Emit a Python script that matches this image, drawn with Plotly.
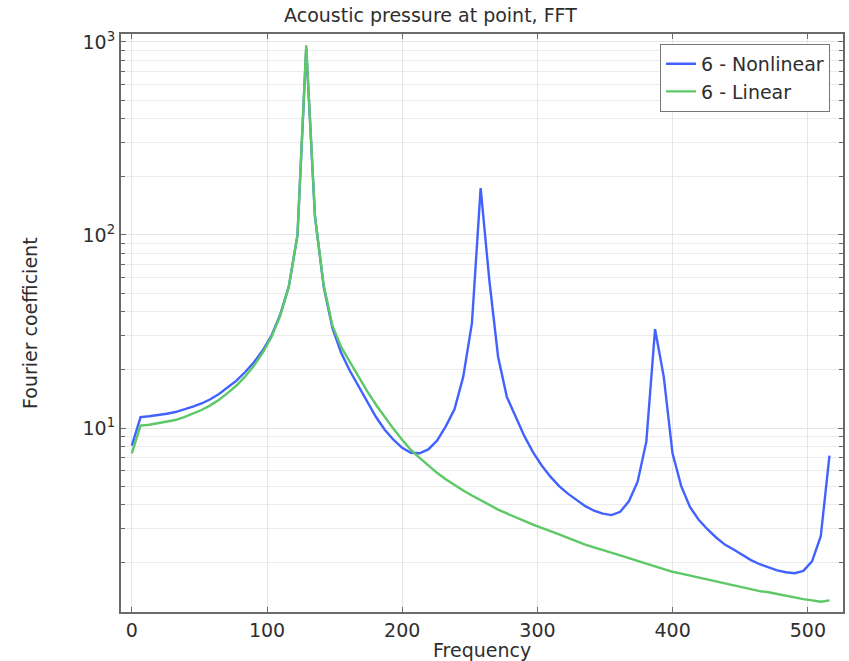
import plotly.graph_objects as go

frequency = [0, 6.45, 12.9, 19.35, 25.8, 32.25, 38.7, 45.15, 51.6, 58.05, 64.5, 70.95, 77.4, 83.85,
             90.3, 96.75, 103.2, 109.65, 116.1, 122.55, 129.0, 135.45, 141.9, 148.35, 154.8, 161.25,
             167.7, 174.15, 180.6, 187.05, 193.5, 199.95, 206.4, 212.85, 219.3, 225.75, 232.2, 238.65,
             245.1, 251.55, 258.0, 264.45, 270.9, 277.35, 283.8, 290.25, 296.7, 303.15, 309.6, 316.05,
             322.5, 328.95, 335.4, 341.85, 348.3, 354.75, 361.2, 367.65, 374.1, 380.55, 387.0, 393.45,
             399.9, 406.35, 412.8, 419.25, 425.7, 432.15, 438.6, 445.05, 451.5, 457.95, 464.4, 470.85,
             477.3, 483.75, 490.2, 496.65, 503.1, 509.55, 516.0]

nonlinear = [8.1, 11.4, 11.5, 11.65, 11.85, 12.1, 12.45, 12.9, 13.4, 14.1, 15.0, 16.2, 17.6, 19.5,
             21.9, 25.2, 30.0, 38.5, 54, 100, 930, 125, 54, 33, 24.5, 19.8, 16.4, 13.6, 11.4, 9.8,
             8.7, 7.9, 7.45, 7.4, 7.75, 8.6, 10.2, 12.5, 18.4, 34.9, 175, 58, 23.4, 14.5, 11.5, 9.1,
             7.5, 6.4, 5.6, 5.0, 4.57, 4.22, 3.94, 3.73, 3.60, 3.54, 3.68, 4.17, 5.27, 8.5, 32.5,
             18.4, 7.4, 5.0, 3.9, 3.35, 2.99, 2.71, 2.49, 2.35, 2.20, 2.07, 1.97, 1.90, 1.83, 1.79,
             1.77, 1.82, 2.04, 2.75, 7.2]

linear = [7.4, 10.3, 10.4, 10.6, 10.75, 11.0, 11.4, 11.9, 12.4, 13.1, 14.0, 15.2, 16.6, 18.5, 21.0,
          24.5, 29.5, 38, 54, 100, 960, 125, 55, 34, 26.3, 22, 18.3, 15.5, 13.2, 11.35, 9.9, 8.7,
          7.7, 7.0, 6.4, 5.86, 5.43, 5.07, 4.75, 4.47, 4.22, 3.98, 3.78, 3.61, 3.44, 3.30, 3.16,
          3.03, 2.92, 2.81, 2.70, 2.59, 2.49, 2.41, 2.34, 2.26, 2.19, 2.12, 2.05, 1.99, 1.92, 1.86,
          1.80, 1.76, 1.72, 1.68, 1.64, 1.60, 1.57, 1.53, 1.49, 1.46, 1.43, 1.41, 1.38, 1.35, 1.33,
          1.30, 1.28, 1.26, 1.28]

series_names = ["6 - Nonlinear", "6 - Linear"]
x_ticks = [0, 100, 200, 300, 400, 500]
y_ticks = [10, 100, 1000]
y_ticktext = ["10<sup>1</sup>", "10<sup>2</sup>", "10<sup>3</sup>"]
y_minor = [m * d for d in (1, 10, 100) for m in range(2, 10)]

FONT = "DejaVu Sans"
TXT = "#2e2e2e"
FS = 19

fig = go.Figure()
fig.add_trace(go.Scatter(x=frequency, y=nonlinear, mode="lines", name=series_names[0],
                         line=dict(color="#4262ff", width=2.4)))
fig.add_trace(go.Scatter(x=frequency, y=linear, mode="lines", name=series_names[1],
                         line=dict(color="#5cc866", width=2.4)))

fig.update_layout(
    width=849, height=661,
    margin=dict(l=121, r=6, t=34, b=49, autoexpand=False),
    paper_bgcolor="white", plot_bgcolor="white",
    font=dict(family=FONT, size=FS, color=TXT),
    title=dict(text="Acoustic pressure at point, FFT", x=0.507, xanchor="center",
               y=0.977, yanchor="middle", font=dict(family=FONT, size=FS, color=TXT),
               automargin=False),
    legend=dict(x=0.982, y=0.983, xanchor="right", yanchor="top",
                bgcolor="white", bordercolor="#777777", borderwidth=1, itemwidth=30,
                font=dict(family=FONT, size=FS, color=TXT), tracegroupgap=0),
    showlegend=True,
    annotations=[
        dict(text="Frequency", xref="paper", yref="paper", x=0.5, y=-(650 - 612) / 578,
             xanchor="center", yanchor="middle", showarrow=False,
             font=dict(family=FONT, size=FS, color=TXT)),
        dict(text="Fourier coefficient", xref="paper", yref="paper", x=-(121 - 30) / 722, y=0.5,
             xanchor="center", yanchor="middle", textangle=-90, showarrow=False,
             font=dict(family=FONT, size=FS, color=TXT)),
    ],
)

fig.update_xaxes(
    range=[-8, 526], tickmode="array", tickvals=x_ticks, automargin=False,
    showline=True, linecolor="#6a6a6a", linewidth=2, mirror="allticks",
    ticks="inside", ticklen=5, tickcolor="#6a6a6a",
    showgrid=True, gridcolor="#e6e6e6", gridwidth=1, zeroline=False,
    tickfont=dict(family=FONT, size=FS, color=TXT),
)

fig.update_yaxes(
    type="log", range=[0.047, 3.041], tickmode="array", tickvals=y_ticks, ticktext=y_ticktext,
    automargin=False,
    showline=True, linecolor="#6a6a6a", linewidth=2, mirror="allticks",
    ticks="inside", ticklen=5, tickcolor="#6a6a6a",
    showgrid=True, gridcolor="#e6e6e6", gridwidth=1, zeroline=False,
    minor=dict(tickmode="array", tickvals=y_minor, ticks="inside", ticklen=4,
               tickcolor="#6a6a6a", showgrid=True, gridcolor="#ececec", gridwidth=1),
    tickfont=dict(family=FONT, size=FS, color=TXT),
)

fig.write_html("out.html", config={"displayModeBar": False},
               post_script="document.body.style.margin='0';document.body.style.padding='0';")
